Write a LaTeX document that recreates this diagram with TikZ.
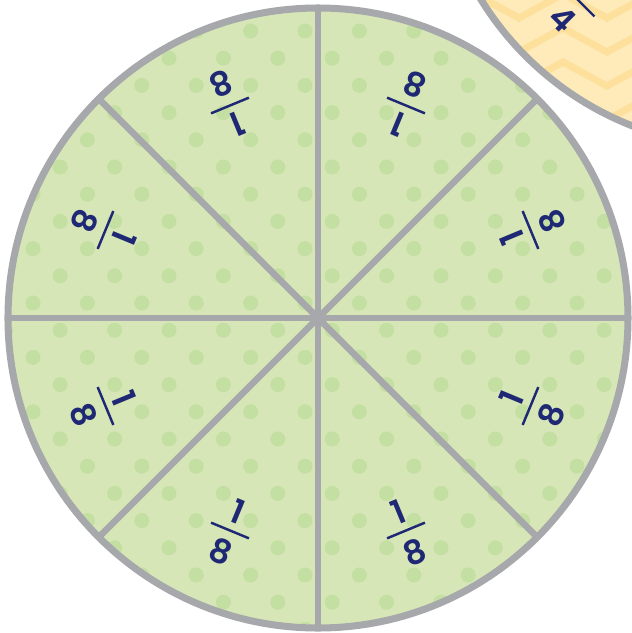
\documentclass[tikz,border=0pt]{standalone}
\usepackage{fontspec}
\setmainfont{Poppins}[BoldFont={* SemiBold}]

\definecolor{pielime}{HTML}{D7E6B6}
\definecolor{piedot}{HTML}{C3DFA2}
\definecolor{pieyellow}{HTML}{FEEBB9}
\definecolor{piechevron}{HTML}{FDE09C}
\definecolor{rimgray}{HTML}{A7A8AC}
\definecolor{fracnavy}{HTML}{1E2875}

\tikzset{
  rim/.style={draw=rimgray, line width=4pt},
  cut/.style={draw=rimgray, line width=3.8pt},
  digit/.style={text=fracnavy, font=\fontsize{19}{19}\selectfont\bfseries, inner sep=0pt},
  fracbar/.style={draw=fracnavy, line width=1.4pt},
  chevron/.style={draw=piechevron, line width=4pt, line join=miter},
}

\begin{document}
\begin{tikzpicture}[x=0.02cm, y=0.02cm]
  \useasboundingbox (-318,-315) rectangle (314,318);

  % Centres
  \coordinate (O) at (0,0);
  \coordinate (Y) at (427,481);

  % Yellow pie (top right, mostly off the page)
  \fill[pieyellow] (Y) circle (310);
  \begin{scope}
    \clip (Y) circle (310);
    \foreach \n in {-3,...,5}
      \draw[chevron, shift={(0,-34*\n)}] (69,290) -- (113,266) -- (157,290)
        -- (201,266) -- (245,290) -- (289,266) -- (333,290);
  \end{scope}
  \draw[rim] (Y) circle (310);

  % Quarter label
  \begin{scope}[shift={(262,316)}, rotate=315, transform shape]
    \node[digit] (qnum) at (0,21) {1};
    \draw[fracbar] (-20.5,0) -- (20.5,0);
    \node[digit] (qden) at (0,-24) {4};
  \end{scope}

  % Green pie
  \fill[pielime] (O) circle (310);
  \begin{scope}
    \clip (O) circle (310);
    \foreach \a in {-12,...,12}
      \foreach \b in {-12,...,12}
        \fill[piedot] ({-13+27.2*(\a+\b)}, {15+27.2*(\a-\b)}) circle (7.5);
  \end{scope}

  % Cuts into eighths
  \foreach \k in {0,...,7}
    \coordinate (R\k) at (45*\k:310);
  \draw[cut] (R0) -- (R4);
  \draw[cut] (R1) -- (R5);
  \draw[cut] (R2) -- (R6);
  \draw[cut] (R3) -- (R7);
  \draw[rim] (O) circle (310);

  % Labels
  \foreach \k in {0,...,7} {
    \pgfmathsetmacro\ang{22.5+45*\k}
    \begin{scope}[shift={(\ang:230)}, rotate=\ang+90, transform shape]
      \node[digit] (num\k) at (0,20) {1};
      \draw[fracbar] (-20.5,0) -- (20.5,0);
      \node[digit] (den\k) at (0,-23) {8};
    \end{scope}
  }
\end{tikzpicture}
\end{document}
